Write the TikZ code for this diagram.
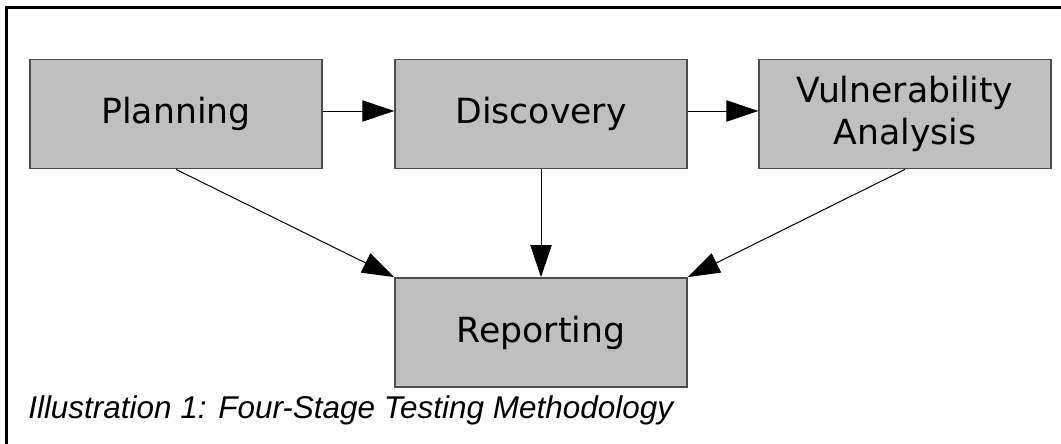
\documentclass[tikz,border=0pt]{standalone}
\usepackage{fontspec}
\setmainfont{DejaVu Sans}
\newfontfamily\capfont{Liberation Sans}
\usetikzlibrary{arrows.meta}

\begin{document}
\begin{tikzpicture}[x=0.75pt,y=-0.75pt,
    stage/.style={draw=black!70,line width=1.1pt,fill=black!25,
        minimum width=219pt,minimum height=82pt,inner sep=0pt,
        align=center,font=\fontsize{26}{31.5}\selectfont},
    flow/.style={line width=0.75pt,-{Triangle[length=24pt,width=16pt]}}]

\useasboundingbox (0,0) rectangle (1061,443);

% ----------------------------------------------------------
% Frame (top and left only)
% ----------------------------------------------------------
\draw[line width=2.25pt] (6,460) -- (6,7) -- (1080,7);

% ----------------------------------------------------------
% Stages
% ----------------------------------------------------------
\node[stage] (plan) at (176,114) {Planning};
\node[stage] (disc) at (541,114) {Discovery};
\node[stage] (vuln) at (905,114) {Vulnerability\\Analysis};
\node[stage] (rep) at (541,332.5) {Reporting};

% Flow along the top row
\draw[flow] ([yshift=2.25pt]plan.east) -- ([yshift=2.25pt]disc.west);
\draw[flow] ([yshift=2.25pt]disc.east) -- ([yshift=2.25pt]vuln.west);

% Every stage feeds the report
\draw[flow] (plan.south) -- (rep.north west);
\draw[flow] (disc.south) -- (rep.north);
\draw[flow] (vuln.south) -- (rep.north east);

% ----------------------------------------------------------
% Caption
% ----------------------------------------------------------
\node[anchor=base west,inner sep=0pt,
    font=\capfont\itshape\fontsize{23.6}{28}\selectfont] (caption) at (28,418)
    {Illustration 1: Four-Stage Testing Methodology};

\end{tikzpicture}
\end{document}
